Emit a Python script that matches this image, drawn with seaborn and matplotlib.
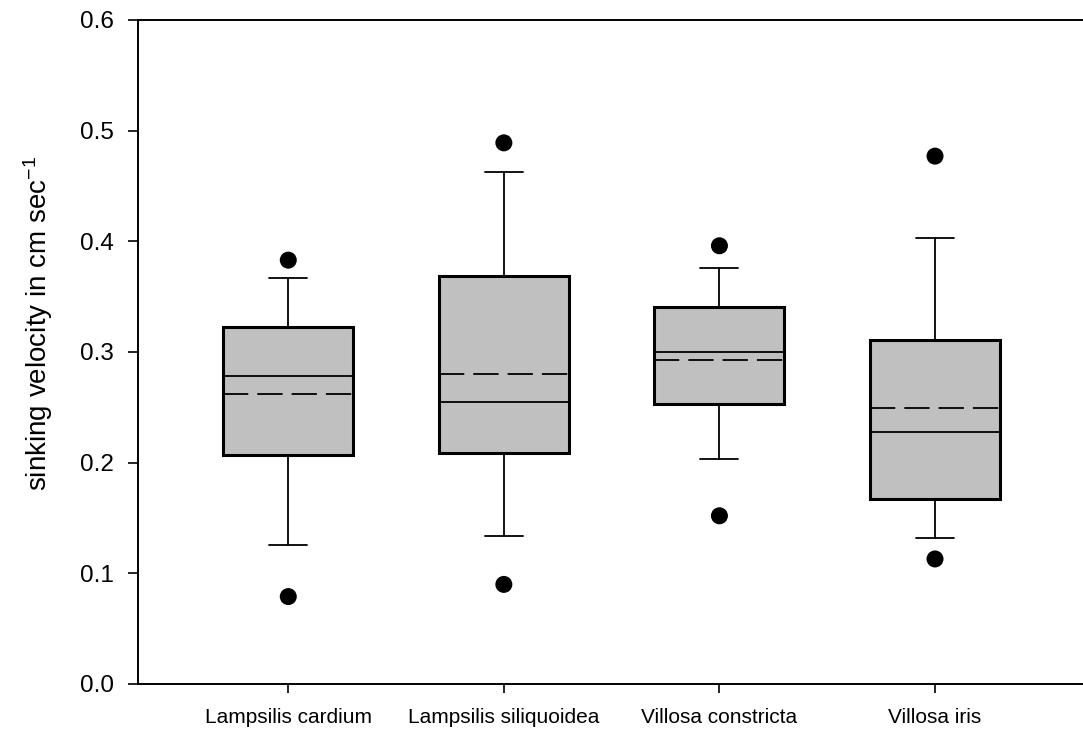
import matplotlib
matplotlib.use("Agg")
import matplotlib.pyplot as plt
import seaborn as sns
import pandas as pd

species = ["Lampsilis cardium", "Lampsilis siliquoidea", "Villosa constricta", "Villosa iris"]
p10 = [0.126, 0.134, 0.203, 0.132]
q1 = [0.207, 0.209, 0.253, 0.167]
median = [0.278, 0.255, 0.300, 0.228]
mean = [0.262, 0.280, 0.293, 0.249]
q3 = [0.323, 0.369, 0.341, 0.311]
p90 = [0.367, 0.463, 0.376, 0.403]
low_out = [0.079, 0.090, 0.152, 0.113]
high_out = [0.383, 0.489, 0.396, 0.477]
yticks = [0.0, 0.1, 0.2, 0.3, 0.4, 0.5, 0.6]

sns.set_style("ticks")
plt.rcParams["font.family"] = ["Liberation Sans", "DejaVu Sans"]
plt.rcParams["mathtext.fontset"] = "custom"
plt.rcParams["mathtext.rm"] = "Liberation Sans"
plt.rcParams["mathtext.it"] = "Liberation Sans"

fig = plt.figure(figsize=(10.83, 7.36), dpi=100)
ax = fig.add_axes([137.7 / 1083, 52 / 736, 1 - 137.7 / 1083, 664 / 736])

positions = list(range(1, len(species) + 1))
stats = []
for i, s in enumerate(species):
    stats.append(dict(label=s, whislo=p10[i], q1=q1[i], med=median[i], mean=mean[i],
                      q3=q3[i], whishi=p90[i], fliers=[]))

ax.bxp(stats, positions=positions, widths=0.603, capwidths=0.176, patch_artist=True,
       showmeans=True, meanline=True, showfliers=False,
       boxprops=dict(facecolor="#c0c0c0", edgecolor="black", linewidth=2.2),
       medianprops=dict(color="black", linewidth=1.3),
       meanprops=dict(color="black", linewidth=1.3, linestyle=(0, (14, 5))),
       whiskerprops=dict(color="black", linewidth=1.3),
       capprops=dict(color="black", linewidth=1.3))

out_df = pd.DataFrame({
    "pos": positions * 2,
    "value": low_out + high_out,
})
sns.scatterplot(data=out_df, x="pos", y="value", color="black", s=150,
                edgecolor="none", ax=ax, zorder=5)

ax.set_xlim(0.3015, 4.6865)
ax.set_ylim(0, 0.6)
ax.set_yticks(yticks)
ax.set_yticklabels([f"{v:.1f}" for v in yticks], fontsize=17.5)
ax.set_xticks(positions)
ax.set_xticklabels(species, fontsize=15)
ax.tick_params(axis="y", direction="out", length=7, width=1.2, pad=10, colors="black")
ax.tick_params(axis="x", direction="out", length=6.5, width=1.2, pad=11, colors="black")
ax.set_xlabel("")
ax.set_ylabel("sinking velocity in cm sec$^{-1}$", fontsize=20, color="black")
ax.yaxis.set_label_coords(-0.088, 0.543)

for side in ["left", "top", "bottom"]:
    ax.spines[side].set_visible(True)
    ax.spines[side].set_linewidth(1.4)
    ax.spines[side].set_color("black")
ax.spines["right"].set_visible(False)
ax.set_facecolor("white")
fig.patch.set_facecolor("white")

fig.savefig("out.png", dpi=100)
